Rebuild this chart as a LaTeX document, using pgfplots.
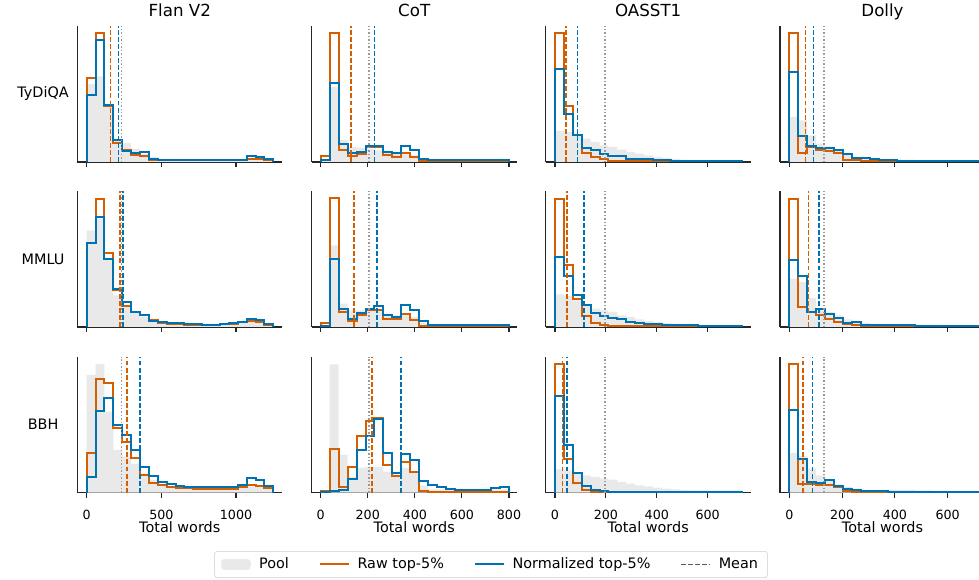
\documentclass[border=0pt]{standalone}
\usepackage{fontspec}
\setmainfont{DejaVu Sans}
\usepackage{pgfplots}
\usepackage{pgfplotstable}
\pgfplotsset{compat=1.18}
\definecolor{rawc}{HTML}{D55E00}
\definecolor{normc}{HTML}{0072B2}
\definecolor{poolc}{HTML}{E9E9E9}
\definecolor{poolm}{HTML}{9A9A9A}

\pgfplotstableread{
x p1 r1 n1 p2 r2 n2 p3 r3 n3
0 0 0 0 0 0 0 0 0 0
0 78 84.3 66.7 96.7 84.3 84.3 117.7 39.3 15.3
59.52 85.7 129 122 108 128.3 110 128.7 113.7 81.7
119.05 55 56 57 68 74 68.3 81 109.3 94.3
178.57 23 19 21.7 31.7 36.7 38.3 42.7 64.3 67.7
238.10 19 11.7 11 20 21 25 36 51 57.7
297.62 13 6.7 9 14.3 15 15 28.7 34.3 42.7
357.14 8 6 10 10 11.7 12.3 19.3 17.7 25.3
416.67 5 2.3 3.3 6.7 6.7 6 12.7 10 16.7
476.19 3 1.7 2.3 5 4.3 5 8.7 7.7 11
535.71 3 1.7 2.3 4 3.3 4.3 6 6 8.7
595.24 2.7 1.7 2.3 3.7 2.7 4 5 5 6.7
654.76 2.7 1.7 2.3 3 2.3 3.3 5 4.3 6
714.29 2.7 1.7 2.3 2.5 1.7 2.7 5 3.3 6
773.81 2.7 1.7 2.3 2.3 1.7 2.3 5 3.3 6
833.33 2.7 1.7 2.3 2.3 1.7 2.3 5 3.3 6
892.86 2.7 1.7 2.3 2.7 2.7 2.7 5 3.3 6
952.38 2.7 1.7 2.3 3.7 3.3 4 5 3.3 6
1011.90 2.7 1.7 2.3 4.7 5 5 5.3 6 7.7
1071.43 3 3 5.7 7 6 7.7 6 7.7 14.3
1130.95 3 3 4.7 6 5 6.7 6 7 12.7
1190.48 2 1.7 2.7 2.3 1.7 2.7 4.5 4.3 6.7
1250 2 1.7 2.7 2.3 1.7 2.7 4.5 4.3 6.7
1250 0 0 0 0 0 0 0 0 0
}\flan

\pgfplotstableread{
x p1 r1 n1 p2 r2 n2 p3 r3 n3
0 0 0 0 0 0 0 0 0 0
0 2.3 5.7 1.7 2.3 4 1 1.3 1.7 0.7
38.10 75 129 79 81.7 129 68.3 128.3 44 1.7
76.19 22 11.7 17.7 23.3 15 18.3 38 5.7 2.3
114.29 15 6 9 16.7 6 8.3 15.7 25.7 14
152.38 14 8.3 10 16.7 11.7 14.3 25 56.3 43
190.48 13 15 15.7 16.7 16.7 18.3 25.7 71.3 56.7
228.57 11.7 15 15.7 16.7 16.7 21 25.7 75 74
266.67 10 6.7 10 13.3 7.7 11.7 20.7 27.3 40
304.76 8 5 9 11.7 7.7 10 16.3 16.3 19.7
342.86 7.7 9 15.7 11.7 13.3 21.7 24.7 30.7 39
380.95 6.7 5 11.7 10 6.7 16.7 19.7 20.7 32.3
419.05 3.3 1 3.3 4 1 5.7 7.3 1.7 11.3
457.14 2.3 1 1.7 2.3 0.7 1.7 3.3 0.7 7.3
495.24 2.3 1 1.7 2.3 0.7 1.7 3.3 0.7 5.7
533.33 2.3 1 1.7 2.3 0.7 1.7 3.3 0.7 4
571.43 2.3 1 1.7 2.3 0.7 1.7 3.3 0.7 3
609.52 2.3 1 1.7 2.3 0.7 1.7 3.3 0.7 3
647.62 2.3 1 1.7 2.3 0.7 1.7 3.3 0.7 3
685.71 2.3 1 1.7 2.3 0.7 1.7 3.3 0.7 3
723.81 2.3 1 1.7 2.3 0.7 1.7 3.3 0.7 4.7
761.90 2.3 1 1.7 2.3 0.7 1.7 3.3 0.7 5.7
800 2.3 1 1.7 2.3 0.7 1.7 3.3 0.7 5.7
800 0 0 0 0 0 0 0 0 0
}\cot

\pgfplotstableread{
x p1 r1 n1 p2 r2 n2 p3 r3 n3
0 0 0 0 0 0 0 0 0 0
0 31 129 92.7 32.7 128.3 70 23.3 129 96.3
35 30 55.7 48.3 31 61.7 51 22.3 33.3 47.3
70 26.7 26.7 27.3 26.7 28.3 31.7 19.7 9.7 19.7
105 23.3 9 14.3 21.7 11 22.3 17.3 2.3 6.7
140 20 5 11.7 18.3 4.3 14 15.7 0.7 3
175 16.7 2.7 8.3 16.7 2.3 11 14 0.7 1.7
210 15 0.7 6 15 1 9 13 0.7 0.7
245 12.3 0.7 6 11.7 0.7 7.7 10.7 0.7 0.7
280 10 0.7 3.3 10 0.7 5 9 0.7 0.7
315 8.3 0.7 3.3 7.7 0.7 4 7.3 0.7 0.7
350 6.7 0.7 2.7 6 0.7 2.7 6.3 0.7 0.7
385 5 0.7 2.3 5 0.7 3 5 0.7 0.7
420 4 0.7 1.7 4 0.7 2.3 4 0.7 0.7
455 3 0.7 1.3 3 0.7 1.7 3.3 0.7 0.7
490 2.3 0.7 1.3 2.3 0.7 1.7 2.7 0.7 0.7
525 1.7 0.7 1 1.7 0.7 1.7 2.3 0.7 0.7
560 1.7 0.7 1 1.7 0.7 1 2.3 0.7 0.7
595 1.7 0.7 1 1.7 0.7 1 2.3 0.7 0.7
630 1.7 0.7 1 1.7 0.7 1 2.3 0.7 0.7
665 1.7 0.7 1 1.7 0.7 1 2.3 0.7 0.7
700 1.7 0.7 0.7 1.7 0.7 1 2.3 0.7 0.7
735 1.7 0.7 0.7 1.7 0.7 1 2.3 0.7 0.7
735 0 0 0 0 0 0 0 0 0
}\oasst

\pgfplotstableread{
x p1 r1 n1 p2 r2 n2 p3 r3 n3
0 0 0 0 0 0 0 0 0 0
0 45 129 90 48.3 128.3 66.7 39.7 129 82.3
34 41.7 9.3 26 45 20 51 36.7 9 33.3
68 26.7 15 15.7 29 15 15 24 9 10.7
102 18.3 11.7 14 18.3 12.3 18.3 17.3 8 9.7
136 15.7 10.7 14 15 7.7 13.3 12.3 8 12.3
170 12.3 9 12.3 11.7 5 9 8.3 5.7 6.3
204 7.7 2.3 7.7 7.7 2.7 4 5.7 1.7 3.3
238 5 1.7 4 5 1.7 5 4 0.7 2.3
272 3.3 0.7 4.3 4 0.7 1.7 3 0.7 1.7
306 2.7 0.7 2.7 3 0.7 2.3 3 0.7 1.7
340 2.3 0.7 1.7 2.3 0.7 1.7 3 0.7 1.7
374 2.3 0.7 1.7 2.3 0.7 2.3 3 0.7 1
408 2.3 0.7 1.3 2.3 0.7 1.7 3 0.7 1
442 2.3 0.7 1 2.3 0.7 1.7 3 0.7 1
476 1.7 0.7 1 2.3 0.7 1 2.3 0.7 0.7
510 1.7 0.7 1 2.3 0.7 1 2.3 0.7 0.7
544 1.7 0.7 1 2.3 0.7 1 1.7 0.7 0.7
578 1.7 0.7 0.7 1.7 0.7 1 1.7 0.7 0.7
612 1.7 0.7 0.7 1.7 0.7 1 1.7 0.7 0.7
646 1.7 0.7 0.7 1.7 0.7 1 1.7 0.7 0.7
680 1.7 0.7 0.7 1.7 0.7 1 1.7 0.7 0.7
714 1.7 0.7 0.7 1.7 0.7 1 1.7 0.7 0.7
714 0 0 0 0 0 0 0 0 0
}\dolly

\pgfplotsset{
  every axis title shift=0pt,
  panel/.style={
    scale only axis, width=153.75pt, height=102pt, anchor=south west,
    ymin=0, ymax=136, axis lines*=left, ytick=\empty,
    tick align=outside, major tick length=3.75pt,
    every tick/.style={black!85, line width=0.8pt},
    axis line style={black!85, line width=0.8pt},
    /pgf/number format/assume math mode=true,
    /pgf/number format/set thousands separator={},
    xticklabel style={font=\fontsize{9.5}{11}\selectfont, anchor=base, yshift=-16.7pt},
    title style={font=\fontsize{12.5}{15}\selectfont, at={(axis description cs:0.5,1)}, anchor=base, yshift=6.75pt},
    ylabel style={font=\fontsize{10.8}{13}\selectfont, at={(axis description cs:-0.167,0.5)}, anchor=center, rotate=-90},
    xlabel style={font=\fontsize{10.8}{13}\selectfont, at={(axis description cs:0.5,0)}, anchor=base, yshift=-30.2pt},
  },
  flan/.style={xmin=-63, xmax=1310, xtick={0,500,1000}},
  cotc/.style={xmin=-38.2, xmax=832.7, xtick={0,200,400,600,800}},
  oasc/.style={xmin=-36.5, xmax=769, xtick={0,200,400,600}},
  dolc/.style={xmin=-35.2, xmax=741.3, xtick={0,200,400,600}},
  notick/.style={xticklabels=\empty},
  poolfill/.style={const plot mark left, fill=poolc, draw=none, forget plot},
  rawline/.style={const plot mark left, draw=rawc, line width=1.5pt, line join=miter, forget plot},
  normline/.style={const plot mark left, draw=normc, line width=1.5pt, line join=miter, forget plot},
  poolmean/.style={draw=poolm, line width=1.2pt, dash pattern=on 1.1pt off 1.5pt, forget plot},
  rawmean/.style={draw=rawc, line width=1.2pt, dash pattern=on 3.7pt off 1.6pt, forget plot},
  normmean/.style={draw=normc, line width=1.2pt, dash pattern=on 3.7pt off 1.6pt, forget plot},
}

\newcommand{\panelplots}[5]{%
  \addplot[poolfill] table[x=x,y=p#2]{#1};
  \addplot[rawline] table[x=x,y=r#2]{#1};
  \addplot[normline] table[x=x,y=n#2]{#1};
  \addplot[poolmean] coordinates {(#3,0) (#3,136)};
  \addplot[rawmean] coordinates {(#4,0) (#4,136)};
  \addplot[normmean] coordinates {(#5,0) (#5,136)};
}

\begin{document}
\begin{tikzpicture}
\useasboundingbox (0,0) rectangle (734.25pt,-435pt);

% Row 1: TyDiQA
\begin{axis}[panel, flan, notick, at={(57.975pt,-121.5pt)}, title={Flan V2}, ylabel={TyDiQA}]
\panelplots{\flan}{1}{233}{160}{212}
\end{axis}
\begin{axis}[panel, cotc, notick, at={(233.775pt,-121.5pt)}, title={CoT}]
\panelplots{\cot}{1}{206}{129}{228}
\end{axis}
\begin{axis}[panel, oasc, notick, at={(409.275pt,-121.5pt)}, title={OASST1}]
\panelplots{\oasst}{1}{196}{43}{88}
\end{axis}
\begin{axis}[panel, dolc, notick, at={(585pt,-121.5pt)}, title={Dolly}]
\panelplots{\dolly}{1}{131}{62}{91}
\end{axis}

% Row 2: MMLU
\begin{axis}[panel, flan, notick, at={(57.975pt,-245.25pt)}, ylabel={MMLU}]
\panelplots{\flan}{2}{233}{223}{245}
\end{axis}
\begin{axis}[panel, cotc, notick, at={(233.775pt,-245.25pt)}]
\panelplots{\cot}{2}{206}{142}{238}
\end{axis}
\begin{axis}[panel, oasc, notick, at={(409.275pt,-245.25pt)}]
\panelplots{\oasst}{2}{196}{46}{114}
\end{axis}
\begin{axis}[panel, dolc, notick, at={(585pt,-245.25pt)}]
\panelplots{\dolly}{2}{131}{72}{112}
\end{axis}

% Row 3: BBH
\begin{axis}[panel, flan, at={(57.975pt,-369.5pt)}, ylabel={BBH}, xlabel={Total words},
  legend columns=4,
  legend cell align=left,
  legend style={at={(axis description cs:2.018,-0.528)}, anchor=center,
    draw=black!20, rounded corners=2pt, font=\fontsize{10.8}{13}\selectfont,
    inner xsep=5pt, inner ysep=3pt,
    /tikz/every even column/.append style={column sep=20.5pt}}]
\panelplots{\flan}{3}{233}{268}{357}
\addlegendimage{legend image code/.code={\fill[poolc] (0pt,-3.75pt) rectangle (21.6pt,3.75pt); \path (26pt,0pt);}}
\addlegendentry{Pool}
\addlegendimage{legend image code/.code={\draw[rawc, line width=1.5pt] (0pt,0pt) -- (21.6pt,0pt); \path (26pt,0pt);}}
\addlegendentry{Raw top-5\%}
\addlegendimage{legend image code/.code={\draw[normc, line width=1.5pt] (0pt,0pt) -- (21.6pt,0pt); \path (26pt,0pt);}}
\addlegendentry{Normalized top-5\%}
\addlegendimage{legend image code/.code={\draw[black!65, line width=1.1pt, dash pattern=on 3.7pt off 1.6pt] (0pt,0pt) -- (21.6pt,0pt); \path (26pt,0pt);}}
\addlegendentry{Mean}
\end{axis}
\begin{axis}[panel, cotc, at={(233.775pt,-369.5pt)}, xlabel={Total words}]
\panelplots{\cot}{3}{206}{217}{341}
\end{axis}
\begin{axis}[panel, oasc, at={(409.275pt,-369.5pt)}, xlabel={Total words}]
\panelplots{\oasst}{3}{196}{29}{46}
\end{axis}
\begin{axis}[panel, dolc, at={(585pt,-369.5pt)}, xlabel={Total words}]
\panelplots{\dolly}{3}{131}{53}{88}
\end{axis}
\end{tikzpicture}
\end{document}
